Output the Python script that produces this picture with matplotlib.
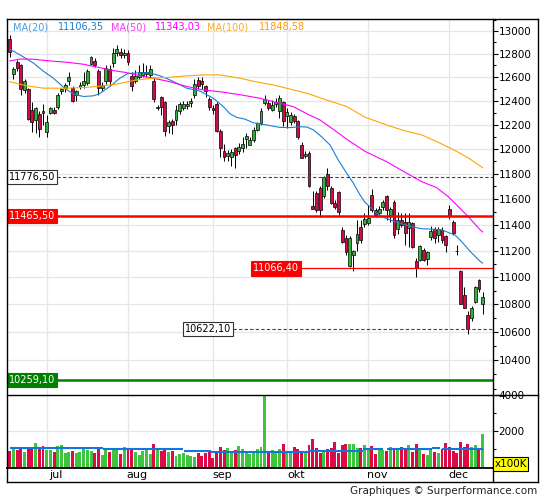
import numpy as np
import matplotlib
matplotlib.use("Agg")
import matplotlib.pyplot as plt
import matplotlib.transforms as mtransforms
from matplotlib.lines import Line2D
from matplotlib.ticker import FixedLocator, FuncFormatter, NullFormatter

# --- Datos ---

opens = [12930, 12630, 12725, 12700, 12490, 12500, 12320, 12235, 12285, 12315,
         12140, 12300, 12325, 12350, 12480, 12505, 12565, 12505, 12450, 12515,
         12535, 12550, 12715, 12740, 12650, 12505, 12570, 12670, 12720, 12805,
         12815, 12790, 12805, 12610, 12565, 12600, 12615, 12630, 12620, 12570,
         12335, 12430, 12390, 12190, 12227, 12240, 12310, 12340, 12355, 12380,
         12450, 12575, 12565, 12520, 12410, 12340, 12370, 12150, 11985, 11940,
         11935, 12005, 11980, 12005, 12080, 12035, 12073, 12156, 12210, 12380,
         12380, 12322, 12370, 12310, 12390, 12270, 12220, 12275, 12230, 12030,
         11940, 11970, 11545, 11650, 11685, 11620, 11800, 11685, 11570, 11655,
         11360, 11295, 11085, 11170, 11260, 11385, 11405, 11410, 11630, 11515,
         11490, 11540, 11620, 11475, 11580, 11365, 11436, 11423, 11372, 11410,
         11120, 11132, 11207, 11137, 11305, 11365, 11320, 11360, 11310, 11520,
         11423, 11200, 11050, 10872, 10720, 10700, 10815, 10980, 10805]
highs = [12965, 12690, 12745, 12710, 12585, 12510, 12390, 12350, 12310, 12370,
         12280, 12345, 12345, 12465, 12510, 12550, 12640, 12520, 12490, 12560,
         12640, 12665, 12785, 12760, 12670, 12560, 12700, 12700, 12850, 12880,
         12850, 12840, 12830, 12640, 12660, 12700, 12720, 12700, 12700, 12600,
         12365, 12440, 12400, 12240, 12250, 12360, 12390, 12400, 12400, 12420,
         12580, 12600, 12600, 12530, 12430, 12360, 12390, 12160, 12040, 11990,
         12000, 12020, 12050, 12100, 12130, 12100, 12180, 12225, 12335, 12450,
         12405, 12405, 12420, 12450, 12400, 12335, 12305, 12290, 12240, 12060,
         11980, 11980, 11665, 11665, 11700, 11785, 11848, 11700, 11590, 11665,
         11385, 11320, 11310, 11205, 11436, 11436, 11490, 11550, 11680, 11530,
         11545, 11592, 11632, 11540, 11592, 11500, 11490, 11490, 11490, 11423,
         11145, 11245, 11220, 11195, 11390, 11385, 11385, 11385, 11321, 11553,
         11436, 11245, 11058, 10930, 10750, 10785, 10935, 10985, 10890]
lows = [12770, 12580, 12655, 12450, 12465, 12240, 12140, 12130, 12100, 12200,
        12100, 12285, 12285, 12330, 12455, 12470, 12530, 12385, 12400, 12495,
        12510, 12530, 12700, 12690, 12450, 12480, 12540, 12520, 12690, 12780,
        12760, 12760, 12700, 12480, 12545, 12580, 12600, 12600, 12590, 12390,
        12320, 12280, 12110, 12130, 12120, 12200, 12290, 12320, 12330, 12350,
        12420, 12500, 12500, 12430, 12320, 12290, 12140, 11935, 11900, 11900,
        11860, 11850, 11960, 11975, 12010, 12030, 12060, 12145, 12197, 12365,
        12322, 12310, 12350, 12255, 12185, 12170, 12197, 12215, 12085, 11925,
        11930, 11695, 11525, 11500, 11460, 11605, 11670, 11560, 11525, 11475,
        11260, 11170, 11080, 11045, 11200, 11260, 11385, 11400, 11495, 11460,
        11470, 11515, 11436, 11420, 11295, 11330, 11385, 11245, 11230, 11220,
        11000, 11120, 11120, 11095, 11283, 11255, 11270, 11260, 11190, 11445,
        11321, 11170, 10799, 10770, 10584, 10680, 10810, 10890, 10727]
closes = [12815, 12665, 12680, 12500, 12570, 12250, 12220, 12340, 12160, 12295,
          12225, 12335, 12300, 12450, 12500, 12530, 12600, 12400, 12480, 12535,
          12570, 12650, 12770, 12700, 12505, 12530, 12675, 12570, 12805, 12845,
          12790, 12810, 12730, 12525, 12605, 12640, 12640, 12645, 12665, 12410,
          12350, 12345, 12150, 12225, 12200, 12320, 12370, 12370, 12372, 12395,
          12540, 12520, 12540, 12485, 12345, 12325, 12150, 12005, 11935, 11965,
          11975, 11955, 12015, 12040, 12105, 12075, 12156, 12210, 12310, 12410,
          12340, 12364, 12385, 12420, 12230, 12305, 12280, 12230, 12100, 11930,
          11960, 11700, 11525, 11510, 11510, 11776.5, 11700, 11570, 11540, 11495,
          11265, 11190, 11300, 11195, 11330, 11280, 11445, 11455, 11515, 11475,
          11525, 11580, 11515, 11520, 11320, 11436, 11398, 11337, 11423, 11230,
          11066.4, 11238, 11132, 11187, 11350, 11300, 11365, 11283, 11245, 11465.5,
          11335, 11195, 10805, 10775, 10622.1, 10775, 10925, 10915, 10855]
volumes = [906, 1073, 962, 1128, 851, 1073, 1073, 1350, 1128, 1184,
           962, 962, 851, 1184, 1240, 795, 851, 906, 795, 851,
           1073, 962, 906, 795, 1128, 684, 962, 851, 1073, 962,
           740, 1128, 962, 1073, 851, 684, 906, 962, 740, 1295,
           962, 906, 1073, 851, 906, 629, 740, 795, 684, 629,
           574, 795, 629, 795, 906, 518, 851, 1128, 962, 1073,
           906, 980, 1184, 1018, 851, 740, 906, 1018, 1128, 3990,
           906, 962, 906, 1018, 1295, 906, 906, 1128, 1018, 906,
           906, 1240, 1573, 1073, 795, 962, 1018, 1073, 1406, 795,
           1240, 1295, 1295, 1295, 1073, 1073, 1240, 1073, 1184, 740,
           962, 962, 906, 1128, 962, 1073, 1128, 1073, 1240, 851,
           1295, 962, 740, 684, 962, 851, 795, 1018, 1350, 1128,
           906, 795, 1406, 1128, 1295, 1128, 1240, 1073, 1868]

# medias moviles (muestras)
ma20_idx = [0, 2.8, 6.4, 9.1, 11.8, 15, 17.7, 20, 22.6, 24.4, 27.1, 29.8, 32, 34.3, 38, 40.7,
            43.4, 47.9, 51.5, 55.1, 57.8, 59.6, 61.4, 63.7, 65.9, 69.5, 73.1, 75.8, 78.6,
            80.4, 82.2, 84.4, 86.7, 88.9, 91.2, 93, 94.8, 96.1, 98.9, 100.7, 103.4, 106.1,
            108.8, 111.5, 114.2, 116.9, 119.1, 120.5, 122.3, 124.6, 127.3, 128]
ma20_val = [12840, 12790, 12720, 12650, 12590, 12500, 12450, 12435, 12440, 12460, 12520,
            12590, 12630, 12635, 12635, 12610, 12575, 12505, 12480, 12420, 12350, 12290,
            12260, 12245, 12215, 12197, 12177, 12175, 12182, 12180, 12156, 12100, 12032,
            11911, 11804, 11725, 11632, 11575, 11500, 11462, 11431, 11406, 11385, 11368,
            11365, 11360, 11335, 11321, 11270, 11195, 11120, 11106.35]
ma50_idx = [0, 2.8, 6.4, 10.9, 15.4, 19.9, 24.4, 29, 31.2, 34.3, 38.8, 43.4, 47.9, 52.4,
            56.9, 62.3, 67.7, 73.1, 76.7, 80.4, 84, 87.6, 91.5, 96.2, 102, 106.8, 111.5,
            115.5, 118.7, 121.4, 124.1, 127.3, 128]
ma50_val = [12738, 12755, 12753, 12738, 12727, 12710, 12680, 12650, 12640, 12618, 12590,
            12560, 12520, 12490, 12475, 12450, 12420, 12378, 12350, 12290, 12238, 12160,
            12073, 11980, 11897, 11815, 11737, 11690, 11618, 11540, 11462, 11360, 11343.03]
ma100_idx = [0, 4.6, 9.1, 15.4, 20.8, 25.3, 28.9, 31.2, 34.3, 38.8, 43.4, 47.9, 52.4, 56.9,
             62.3, 66.5, 71.3, 80.4, 85.8, 91.2, 96.1, 102, 106.8, 111.6, 116.3, 121, 124.5, 128]
ma100_val = [12560, 12525, 12505, 12505, 12512, 12525, 12540, 12555, 12575, 12590, 12598,
             12610, 12618, 12618, 12590, 12560, 12533, 12462, 12405, 12350, 12262, 12197,
             12150, 12114, 12050, 11980, 11920, 11848.58]
ma_names = ["MA(20)", "MA(50)", "MA(100)"]
ma_last = ["11106,35", "11343,03", "11848,58"]

# media de volumen (tramos)
volavg_start = [0, 25.2, 47.2, 54.5, 80.7, 95.6, 102.1, 114.3, 117]
volavg_end = [25.2, 46.9, 54.4, 80.6, 95.6, 101, 114.3, 116.4, 128]
volavg_level = [1056, 1000, 923, 880, 923, 1010, 1000, 1056, 1040]

# niveles marcados
level_vals = [11776.5, 11465.5, 11066.4, 10622.1, 10259.1]
level_text = ["11776,50", "11465,50", "11066,40", "10622,10", "10259,10"]

months = ["jul", "aug", "sep", "okt", "nov", "dec"]
month_idx = [10, 32, 55, 75, 97, 119]

price_major = list(range(10400, 13001, 200))
price_minor = [v for v in range(10200, 13101, 100) if v not in price_major]

# --- Estilo ---
GREEN = "#33b23a"
RED = "#d40a45"
VGREEN = "#3ec43e"
VRED = "#dc0a46"
GRID = "#e6e6e6"
C20, C50, C100 = "#1a7fd4", "#ff00ff", "#ffa500"

W, H = 545, 500
fig = plt.figure(figsize=(W / 100, H / 100), dpi=100)


def fx(px):
    return px / W


def fy(py):
    return 1 - py / H


L, R, T, MID, VB, BOT, FR = 6.7, 493, 19.3, 395.3, 467.5, 481.7, 538.3

ax = fig.add_axes([fx(L), fy(MID), fx(R) - fx(L), fy(T) - fy(MID)])
axv = fig.add_axes([fx(L), fy(VB), fx(R) - fx(L), fy(MID) - fy(VB)], sharex=ax)

x = np.arange(len(closes))
o = np.array(opens, dtype=float)
c = np.array(closes, dtype=float)
up = c >= o

# --- Precio ---
ax.set_yscale("log")
ax.set_xlim(-0.83, 130.8)
ax.set_ylim(10154, 13103)

for m in month_idx:
    ax.axvline(m, color=GRID, lw=0.9, zorder=0)
    axv.axvline(m, color=GRID, lw=0.9, zorder=0)

ax.vlines(x, lows, highs, color="black", lw=0.7, zorder=3)
bottom = np.minimum(o, c)
height = np.maximum(np.abs(c - o), 6)
ax.bar(x, height, bottom=bottom, width=0.78, color=np.where(up, GREEN, RED),
       edgecolor="black", linewidth=0.5, zorder=4)

ax.plot(ma20_idx, ma20_val, color=C20, lw=0.8, zorder=5)
ax.plot(ma50_idx, ma50_val, color=C50, lw=0.8, zorder=5)
ax.plot(ma100_idx, ma100_val, color=C100, lw=0.8, zorder=5)

# lineas horizontales y etiquetas
xr = 130.8
ax.hlines(level_vals[0], -0.83, xr, color="#444444", lw=0.8, linestyles=(0, (3, 2)), zorder=6)
ax.hlines(level_vals[1], -0.83, xr, color="#ff0000", lw=1.8, zorder=6)
ax.hlines(level_vals[2], 65.5, xr, color="#ff0000", lw=0.9, zorder=6)
ax.hlines(level_vals[3], 47.0, xr, color="#444444", lw=0.8, linestyles=(0, (3, 2)), zorder=6)
ax.hlines(level_vals[4], -0.83, xr, color="#008000", lw=1.8, zorder=6)

trans = mtransforms.blended_transform_factory(ax.transAxes, ax.transData)
white_box = dict(boxstyle="square,pad=0.22", fc="white", ec="#333333", lw=0.8)
red_box = dict(boxstyle="square,pad=0.22", fc="#ff0000", ec="#ff0000", lw=0.8)
green_box = dict(boxstyle="square,pad=0.22", fc="#008000", ec="#008000", lw=0.8)
ax.text(0.004, level_vals[0], level_text[0], transform=trans, fontsize=7, va="center",
        color="black", bbox=white_box, zorder=7)
ax.text(0.004, level_vals[1], level_text[1], transform=trans, fontsize=7, va="center",
        color="white", bbox=red_box, zorder=7)
ax.text(65.9, level_vals[2], level_text[2], fontsize=7, va="center",
        color="white", bbox=red_box, zorder=7)
ax.text(47.4, level_vals[3], level_text[3], fontsize=7, va="center",
        color="black", bbox=white_box, zorder=7)
ax.text(0.004, level_vals[4], level_text[4], transform=trans, fontsize=7, va="center",
        color="white", bbox=green_box, zorder=7)

ax.yaxis.set_major_locator(FixedLocator(price_major))
ax.yaxis.set_minor_locator(FixedLocator(price_minor))
ax.yaxis.set_major_formatter(FuncFormatter(lambda v, p: f"{v:.0f}"))
ax.yaxis.set_minor_formatter(NullFormatter())
ax.yaxis.tick_right()
ax.tick_params(axis="y", which="major", direction="out", length=3.3, width=0.8,
               pad=0.8, labelsize=7.5)
ax.tick_params(axis="y", which="minor", direction="out", length=2.5, width=0.8)
ax.yaxis.grid(True, which="major", color=GRID, lw=0.9, zorder=0)
ax.tick_params(axis="x", which="both", bottom=False, labelbottom=False)
ax.set_axisbelow(True)

# --- Volumen ---
axv.bar(x, volumes, width=0.8, color=np.where(up, VGREEN, VRED), zorder=2)
axv.hlines(volavg_level, volavg_start, volavg_end, color="#1177dd", lw=1.5, zorder=3)
axv.set_ylim(0, 4000)
axv.yaxis.tick_right()
axv.yaxis.set_major_locator(FixedLocator([2000, 4000]))
axv.yaxis.set_minor_locator(FixedLocator([1000, 3000]))
axv.yaxis.set_minor_formatter(NullFormatter())
axv.tick_params(axis="y", which="major", direction="out", length=3.3, width=0.8,
                pad=0.8, labelsize=7.5)
axv.tick_params(axis="y", which="minor", direction="out", length=2.5, width=0.8)
axv.yaxis.grid(True, which="major", color=GRID, lw=0.9, zorder=0)
axv.set_xticks([m + 2.5 for m in month_idx])
axv.set_xticklabels(months)
axv.tick_params(axis="x", length=0, pad=1.6, labelsize=8)
axv.set_axisbelow(True)

for a in (ax, axv):
    for s in a.spines.values():
        s.set_visible(False)


# --- Marco ---
def frame_line(xs, ys, lw=1.0):
    fig.add_artist(Line2D([fx(v) for v in xs], [fy(v) for v in ys], color="black", lw=lw))


frame_line([L, FR], [T, T])
frame_line([L, FR], [BOT, BOT])
frame_line([L, L], [T, BOT])
frame_line([FR, FR], [T, BOT])
frame_line([R, R], [T, BOT])
frame_line([L, FR], [MID, MID])
frame_line([L, R], [VB, VB], lw=1.3)

# --- Leyenda de medias ---
fig.text(fx(13.4), fy(27), ma_names[0], color="#4a9de0", fontsize=7, va="center")
fig.text(fx(58), fy(27), ma_last[0], color=C20, fontsize=7, va="center")
fig.text(fx(110.8), fy(27), ma_names[1], color="#ff33ff", fontsize=7, va="center")
fig.text(fx(154.7), fy(27), ma_last[1], color=C50, fontsize=7, va="center")
fig.text(fx(207.5), fy(27), ma_names[2], color="#ffaa22", fontsize=7, va="center")
fig.text(fx(258.5), fy(27), ma_last[2], color="#ff9900", fontsize=7, va="center")

fig.text(fx(510.5), fy(464), "x100K", ha="center", va="center", fontsize=7.5,
         bbox=dict(boxstyle="square,pad=0.15", fc="#ffff00", ec="black", lw=0.8))
fig.text(fx(537), fy(490.7), "Graphiques \u00a9 Surperformance.com", ha="right",
         va="center", fontsize=7.5, color="#222222")

fig.savefig("out.png", dpi=100)
